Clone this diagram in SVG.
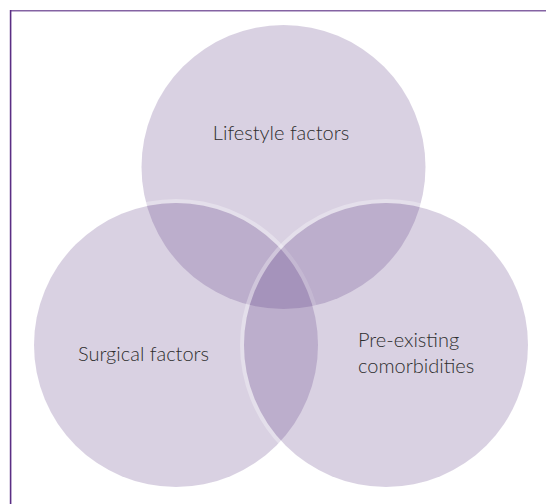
<svg xmlns="http://www.w3.org/2000/svg" width="546" height="504" viewBox="0 0 546 504">
<style>
.halo{fill:none;stroke:#ffffff;stroke-opacity:0.3;stroke-width:4}
.set{fill:#5F3D85;fill-opacity:0.237}
.lbl{font-family:Lato,"Open Sans","DejaVu Sans",sans-serif;font-size:20px;font-weight:300;fill:#2e2e2e}
</style>
<rect x="0" y="0" width="546" height="504" fill="#ffffff"/>
<g id="frame">
<line x1="10" y1="10.8" x2="546" y2="10.8" stroke="#8463A3" stroke-width="1.6"/>
<line x1="10.6" y1="10" x2="10.6" y2="504" stroke="#5B2E84" stroke-width="1.6"/>
</g>
<g id="lifestyle">
<circle class="halo" cx="283.5" cy="167" r="144"/>
<circle class="set" cx="283.5" cy="167" r="142"/>
</g>
<g id="surgical">
<circle class="halo" cx="176" cy="345" r="144"/>
<circle class="set" cx="176" cy="345" r="142"/>
</g>
<g id="comorbidities">
<circle class="halo" cx="386" cy="345" r="144"/>
<circle class="set" cx="386" cy="345" r="142"/>
</g>
<g id="labels">
<text class="lbl" x="281" y="139.5" text-anchor="middle">Lifestyle factors</text>
<text class="lbl" x="143.5" y="360.5" text-anchor="middle">Surgical factors</text>
<text class="lbl" x="358" y="346.5">Pre-existing</text>
<text class="lbl" x="358" y="373">comorbidities</text>
</g>
<g id="connectors"/>
</svg>
